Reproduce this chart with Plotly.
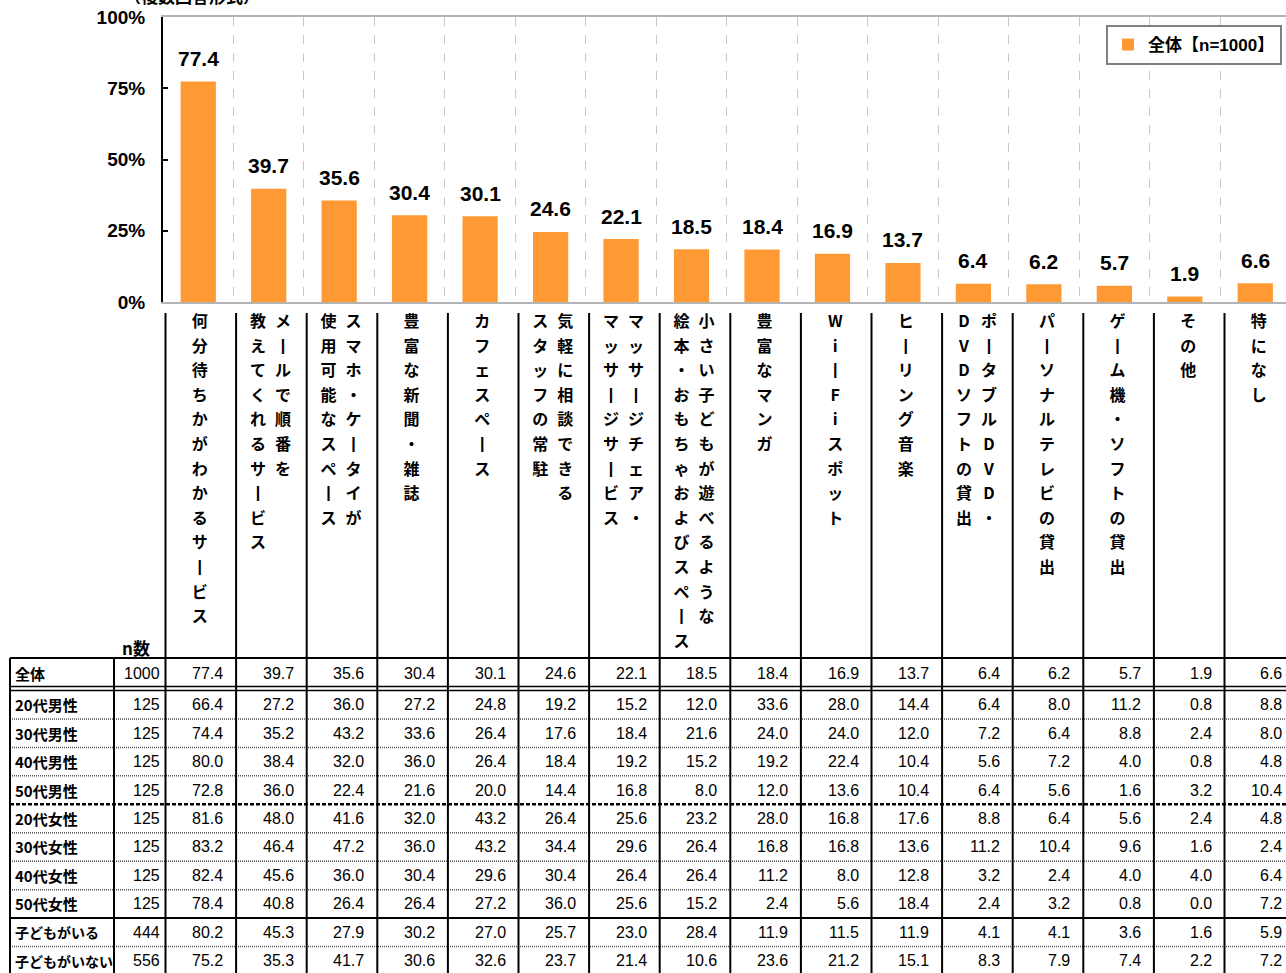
import plotly.graph_objects as go

# ---------------- data ----------------
categories = [
    "何分待ちかがわかるサービス", "メールで順番を教えてくれるサービス",
    "スマホ・ケータイが使用可能なスペース", "豊富な新聞・雑誌", "カフェスペース",
    "気軽に相談できるスタッフの常駐", "マッサージチェア・マッサージサービス",
    "小さい子どもが遊べるような絵本・おもちゃおよびスペース", "豊富なマンガ",
    "Wi-Fiスポット", "ヒーリング音楽", "ポータブルDVD・DVDソフトの貸出",
    "パーソナルテレビの貸出", "ゲーム機・ソフトの貸出", "その他", "特になし",
]
# characters in the first (right-hand) vertical column; 0 = single column
label_split = [0, 7, 9, 0, 0, 8, 9, 13, 0, 0, 0, 9, 0, 0, 0, 0]

overall = [77.4, 39.7, 35.6, 30.4, 30.1, 24.6, 22.1, 18.5, 18.4, 16.9, 13.7, 6.4, 6.2, 5.7, 1.9, 6.6]

row_labels = ["全体", "20代男性", "30代男性", "40代男性", "50代男性", "20代女性",
              "30代女性", "40代女性", "50代女性", "子どもがいる", "子どもがいない"]
n_counts = [1000, 125, 125, 125, 125, 125, 125, 125, 125, 444, 556]
male20 = [66.4, 27.2, 36.0, 27.2, 24.8, 19.2, 15.2, 12.0, 33.6, 28.0, 14.4, 6.4, 8.0, 11.2, 0.8, 8.8]
male30 = [74.4, 35.2, 43.2, 33.6, 26.4, 17.6, 18.4, 21.6, 24.0, 24.0, 12.0, 7.2, 6.4, 8.8, 2.4, 8.0]
male40 = [80.0, 38.4, 32.0, 36.0, 26.4, 18.4, 19.2, 15.2, 19.2, 22.4, 10.4, 5.6, 7.2, 4.0, 0.8, 4.8]
male50 = [72.8, 36.0, 22.4, 21.6, 20.0, 14.4, 16.8, 8.0, 12.0, 13.6, 10.4, 6.4, 5.6, 1.6, 3.2, 10.4]
female20 = [81.6, 48.0, 41.6, 32.0, 43.2, 26.4, 25.6, 23.2, 28.0, 16.8, 17.6, 8.8, 6.4, 5.6, 2.4, 4.8]
female30 = [83.2, 46.4, 47.2, 36.0, 43.2, 34.4, 29.6, 26.4, 16.8, 16.8, 13.6, 11.2, 10.4, 9.6, 1.6, 2.4]
female40 = [82.4, 45.6, 36.0, 30.4, 29.6, 30.4, 26.4, 26.4, 11.2, 8.0, 12.8, 3.2, 2.4, 4.0, 4.0, 6.4]
female50 = [78.4, 40.8, 26.4, 26.4, 27.2, 36.0, 25.6, 15.2, 2.4, 5.6, 18.4, 2.4, 3.2, 0.8, 0.0, 7.2]
kids_yes = [80.2, 45.3, 27.9, 30.2, 27.0, 25.7, 23.0, 28.4, 11.9, 11.5, 11.9, 4.1, 4.1, 3.6, 1.6, 5.9]
kids_no = [75.2, 35.3, 41.7, 30.6, 32.6, 23.7, 21.4, 10.6, 23.6, 21.2, 15.1, 8.3, 7.9, 7.4, 2.2, 7.2]

y_ticks = [0, 25, 50, 75, 100]
y_tick_text = ["0%", "25%", "50%", "75%", "100%"]
legend_name = "全体【n=1000】"
note_text = "（複数回答形式）"
n_header = "n数"

table_rows = [overall, male20, male30, male40, male50, female20, female30,
              female40, female50, kids_yes, kids_no]

# ---------------- layout geometry (pixels) ----------------
W, H = 1286, 973
FONT = "Liberation Sans, Noto Sans CJK JP, sans-serif"
JFONT = "Noto Sans CJK JP, Liberation Sans, sans-serif"
PLOT_L, PLOT_T, PLOT_B = 163, 17, 302
COL_W = 70.47
TAB_X0 = 165.5       # first data-column boundary of the table
TAB_CW = 70.6
TAB_TOP = 658
ROW0_BOTTOM = 686.5
ROWS_START = 690.5
ROW_H = 28.45
LABEL_TOP = 313
CHAR_Y0 = 323
CHAR_PITCH = 24.6

fig = go.Figure()

fig.add_trace(go.Bar(
    x=categories, y=overall, width=0.5, name=legend_name,
    marker=dict(color="#FF9933", line=dict(width=0)),
    xaxis="x", yaxis="y", showlegend=True, hoverinfo="skip",
))

# helper invisible trace for the full-page pixel subplot
fig.add_trace(go.Scatter(x=[0], y=[0], mode="markers", marker=dict(opacity=0),
                         xaxis="x2", yaxis="y2", showlegend=False, hoverinfo="skip"))

annotations = []

# value labels above bars
for c, v in zip(categories, overall):
    annotations.append(dict(x=c, y=v, xref="x", yref="y", text=f"{v:.1f}",
                            showarrow=False, yanchor="middle", yshift=23,
                            font=dict(family=FONT, size=21, color="black", weight="bold")))

# vertical category labels (characters stacked top to bottom, columns right to left)
def vert(ch):
    return "丨" if ch in ("ー", "-") else ch

chx, chy, cht = [], [], []
for k, (cat, sp) in enumerate(zip(categories, label_split)):
    cx = TAB_X0 + TAB_CW * k + TAB_CW / 2 - 1
    if sp == 0:
        cols = [(cat, cx)]
    else:
        cols = [(cat[:sp], cx + 12.5), (cat[sp:], cx - 12.5)]
    for text, x in cols:
        for j, ch in enumerate(text):
            chx.append(x)
            chy.append(CHAR_Y0 + CHAR_PITCH * j)
            cht.append(vert(ch))

fig.add_trace(go.Scatter(
    x=chx, y=chy, text=cht, mode="text", textposition="middle center",
    textfont=dict(family=JFONT, size=16, color="black", weight="bold"),
    xaxis="x2", yaxis="y2", showlegend=False, hoverinfo="skip",
))

# table text
def row_center(i):
    if i == 0:
        return (TAB_TOP + ROW0_BOTTOM) / 2 + 1.5
    return ROWS_START + ROW_H * (i - 1) + ROW_H / 2

for i, (lab, n, vals) in enumerate(zip(row_labels, n_counts, table_rows)):
    yc = row_center(i)
    lab_size = 15 if len(lab) <= 5 else 14
    annotations.append(dict(x=13, y=yc, xref="x2", yref="y2", text=lab, showarrow=False,
                            xanchor="left", yanchor="middle",
                            font=dict(family=JFONT, size=lab_size, color="black", weight="bold")))
    annotations.append(dict(x=162, y=yc, xref="x2", yref="y2", text=str(n), showarrow=False,
                            xanchor="right", yanchor="middle",
                            font=dict(family=FONT, size=16, color="black")))
    for k, v in enumerate(vals):
        xr = TAB_X0 + TAB_CW * (k + 1) - 11
        annotations.append(dict(x=xr, y=yc, xref="x2", yref="y2", text=f"{v:.1f}",
                                showarrow=False, xanchor="right", yanchor="middle",
                                font=dict(family=FONT, size=16, color="black")))

annotations.append(dict(x=136, y=647, xref="x2", yref="y2", text=n_header, showarrow=False,
                        xanchor="center", yanchor="middle",
                        font=dict(family=JFONT, size=17, color="black", weight="bold")))
annotations.append(dict(x=192 / W, y=1 + 4 / H, xref="paper", yref="paper", text=note_text,
                        showarrow=False, xanchor="center", yanchor="middle",
                        font=dict(family=JFONT, size=17, color="black", weight="bold")))

# table lines
shapes = []
def hline(y, x0=10, x1=W, width=2, dash="solid", color="black"):
    shapes.append(dict(type="line", xref="x2", yref="y2", x0=x0, x1=x1, y0=y, y1=y,
                       line=dict(color=color, width=width, dash=dash)))

def vline(x, y0, y1=H, width=2):
    shapes.append(dict(type="line", xref="x2", yref="y2", x0=x, x1=x, y0=y0, y1=y1,
                       line=dict(color="black", width=width)))

hline(TAB_TOP)
hline(ROW0_BOTTOM, width=1.5)
hline(ROWS_START, width=1.5)
for i in range(1, len(row_labels) - 1):
    y = ROWS_START + ROW_H * i
    if i == 4:
        hline(y, width=2.5, dash="4px,2px")
    elif i == 8:
        hline(y, width=2)
    else:
        hline(y, width=1.5, dash="1px,1px", color="#555555")

vline(10, TAB_TOP)
vline(114, TAB_TOP)
for k in range(len(categories) + 1):
    vline(TAB_X0 + TAB_CW * k, LABEL_TOP)

fig.update_layout(
    width=W, height=H,
    margin=dict(l=0, r=0, t=0, b=0, pad=0, autoexpand=False),
    paper_bgcolor="white", plot_bgcolor="rgba(0,0,0,0)",
    annotations=annotations, shapes=shapes,
    bargap=0.5,
    legend=dict(x=1282 / W, xanchor="right", y=1 - 25 / H, yanchor="top",
                bgcolor="white", bordercolor="#808080", borderwidth=2,
                itemwidth=30,
                font=dict(family=FONT, size=17, color="black", weight="bold")),
    xaxis=dict(domain=[PLOT_L / W, 1], range=[-0.5, -0.5 + (W - PLOT_L) / COL_W],
               type="category", tickson="boundaries", showticklabels=False, ticks="",
               showgrid=True, gridcolor="#c8c8c8", griddash="dash", gridwidth=1,
               showline=True, linecolor="#b4b4b4", linewidth=2, mirror=True,
               zeroline=False, fixedrange=True, automargin=False),
    yaxis=dict(domain=[1 - PLOT_B / H, 1 - PLOT_T / H], range=[0, 100],
               tickvals=y_ticks, ticktext=y_tick_text, showgrid=False, zeroline=False,
               showline=True, linecolor="black", linewidth=2,
               ticks="inside", ticklen=5, tickwidth=2, tickcolor="black",
               ticklabelstandoff=12, automargin=False,
               tickfont=dict(family=FONT, size=19, color="black", weight="bold"),
               fixedrange=True),
    xaxis2=dict(domain=[0, 1], range=[0, W], visible=False, anchor="y2",
                fixedrange=True, automargin=False),
    yaxis2=dict(domain=[0, 1], range=[H, 0], visible=False, anchor="x2",
                fixedrange=True, automargin=False),
)

fig.write_html("out.html")
